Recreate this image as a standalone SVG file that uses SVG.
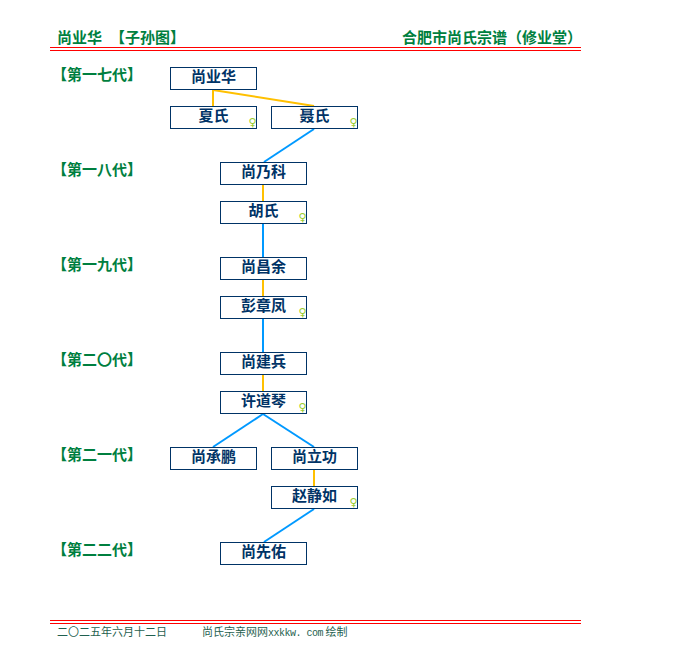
<svg xmlns="http://www.w3.org/2000/svg" width="680" height="670" viewBox="0 0 680 670">
<style>
text{font-family:"Noto Sans CJK SC","Liberation Sans",sans-serif}
.h{font-size:15px;font-weight:700;fill:#007f3f}
.g{font-size:15px;font-weight:700;fill:#007f3f}
.n rect{fill:#fff;stroke:#003366;stroke-width:1}
.n text{font-size:15px;font-weight:700;fill:#003366;text-anchor:middle}
.n text.s{font-size:11px;font-weight:400;fill:#9acd32;font-family:"DejaVu Sans",sans-serif}
.y{stroke:#ffc000;stroke-width:2;fill:none}
.b{stroke:#0099ff;stroke-width:2;fill:none}
.r{stroke:#f00;stroke-width:1}
.f{font-size:11px;fill:#1f5f4f}
.m{font-family:"Liberation Mono",monospace;font-size:10px;letter-spacing:-0.5px}
</style>
<rect width="680" height="670" fill="#fff"/>
<g id="header">
<text class="h" x="57" y="43">尚业华</text>
<text class="h" x="110" y="43">【子孙图】</text>
<text class="h" x="402" y="43">合肥市尚氏宗谱（修业堂）</text>
<line class="r" x1="50" y1="47.5" x2="581" y2="47.5"/>
<line class="r" x1="50" y1="50.5" x2="581" y2="50.5"/>
</g>
<g id="generations">
<text class="g" x="52" y="79.500">【第一七代】</text>
<text class="g" x="52" y="174.500">【第一八代】</text>
<text class="g" x="52" y="269.500">【第一九代】</text>
<text class="g" x="52" y="364.500">【第二〇代】</text>
<text class="g" x="52" y="459.500">【第二一代】</text>
<text class="g" x="52" y="554.500">【第二二代】</text>
</g>
<g id="connectors">
<path class="y" d="M213 90V106"/>
<path class="y" d="M213 90L314 106"/>
<path class="b" d="M314 129L264 162"/>
<path class="y" d="M263 185V201"/>
<path class="b" d="M263 224V257"/>
<path class="y" d="M263 280V296"/>
<path class="b" d="M263 319V352"/>
<path class="y" d="M263 375V391"/>
<path class="b" d="M263 414L213 447"/>
<path class="b" d="M263 414L314 447"/>
<path class="y" d="M314 470V486"/>
<path class="b" d="M314 509L264 542"/>
</g>
<g id="n1" class="n"><rect x="170.500" y="67.500" width="86" height="22"/><text x="213.500" y="81.500">尚业华</text></g>
<g id="n2" class="n"><rect x="170.500" y="106.500" width="86" height="22"/><text x="213.500" y="120.500">夏氏</text><text class="s" x="252.500" y="125.500">♀</text></g>
<g id="n3" class="n"><rect x="271.500" y="106.500" width="86" height="22"/><text x="314.500" y="120.500">聂氏</text><text class="s" x="353.500" y="125.500">♀</text></g>
<g id="n4" class="n"><rect x="220.500" y="162.500" width="86" height="22"/><text x="263.500" y="176.500">尚乃科</text></g>
<g id="n5" class="n"><rect x="220.500" y="201.500" width="86" height="22"/><text x="263.500" y="215.500">胡氏</text><text class="s" x="302.500" y="220.500">♀</text></g>
<g id="n6" class="n"><rect x="220.500" y="257.500" width="86" height="22"/><text x="263.500" y="271.500">尚昌余</text></g>
<g id="n7" class="n"><rect x="220.500" y="296.500" width="86" height="22"/><text x="263.500" y="310.500">彭章凤</text><text class="s" x="302.500" y="315.500">♀</text></g>
<g id="n8" class="n"><rect x="220.500" y="352.500" width="86" height="22"/><text x="263.500" y="366.500">尚建兵</text></g>
<g id="n9" class="n"><rect x="220.500" y="391.500" width="86" height="22"/><text x="263.500" y="405.500">许道琴</text><text class="s" x="302.500" y="410.500">♀</text></g>
<g id="n10" class="n"><rect x="170.500" y="447.500" width="86" height="22"/><text x="213.500" y="461.500">尚承鹏</text></g>
<g id="n11" class="n"><rect x="271.500" y="447.500" width="86" height="22"/><text x="314.500" y="461.500">尚立功</text></g>
<g id="n12" class="n"><rect x="271.500" y="486.500" width="86" height="22"/><text x="314.500" y="500.500">赵静如</text><text class="s" x="353.500" y="505.500">♀</text></g>
<g id="n13" class="n"><rect x="220.500" y="542.500" width="86" height="22"/><text x="263.500" y="556.500">尚先佑</text></g>
<g id="footer">
<line class="r" x1="50" y1="620.500" x2="581" y2="620.500"/>
<line class="r" x1="50" y1="623.500" x2="581" y2="623.500"/>
<text class="f" x="57" y="636">二〇二五年六月十二日</text>
<text class="f" x="202" y="636">尚氏宗亲网网<tspan class="m">xxkkw. com</tspan> 绘制</text>
</g>
</svg>
